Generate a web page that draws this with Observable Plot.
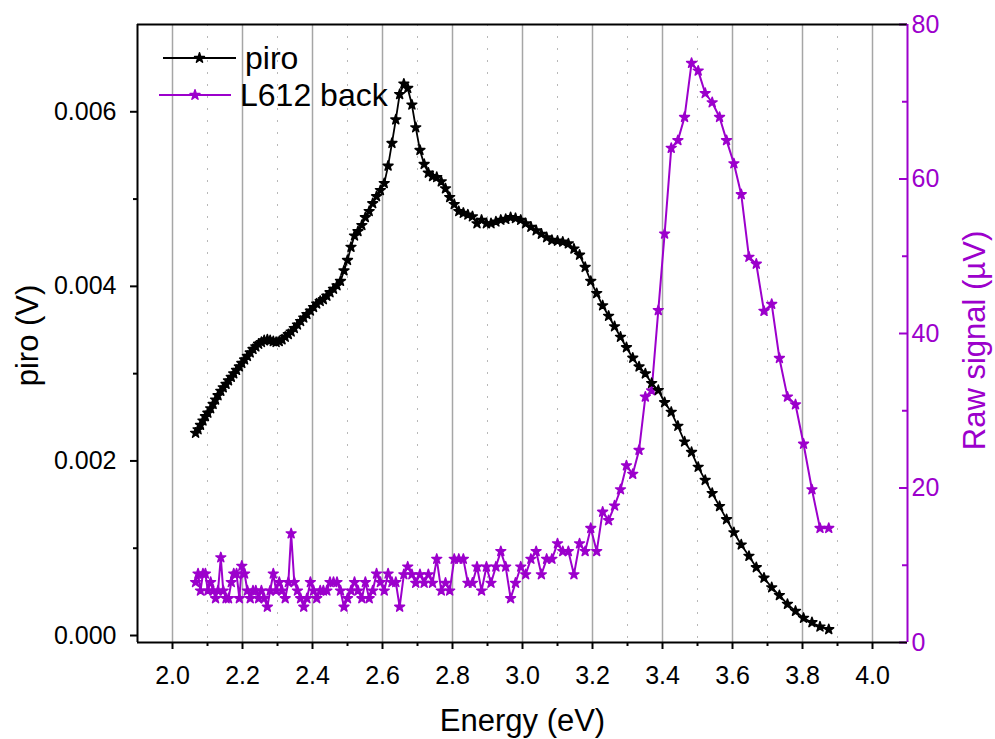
<!DOCTYPE html>
<html>
<head>
<meta charset="utf-8">
<script src="https://cdn.jsdelivr.net/npm/d3@7"></script>
<script src="https://cdn.jsdelivr.net/npm/@observablehq/plot@0.6"></script>
<style>
  html, body { margin: 0; padding: 0; background: white; }
  #wrap { position: relative; width: 995px; height: 739px; overflow: hidden; }
  #legend { position: absolute; left: 0; top: 0; pointer-events: none; }
</style>
</head>
<body>
<div id="wrap"></div>
<script>
// ---------- data ----------
const energy = [
  2.066, 2.073, 2.080, 2.087, 2.094, 2.101, 2.109, 2.116, 2.123, 2.130,
  2.138, 2.145, 2.153, 2.160, 2.168, 2.175, 2.183, 2.191, 2.198, 2.206,
  2.214, 2.222, 2.230, 2.238, 2.246, 2.254, 2.262, 2.271, 2.279, 2.288,
  2.296, 2.305, 2.313, 2.322, 2.331, 2.339, 2.348, 2.357, 2.366, 2.375,
  2.384, 2.394, 2.403, 2.412, 2.422, 2.431, 2.441, 2.450, 2.460, 2.470,
  2.480, 2.490, 2.500, 2.510, 2.520, 2.530, 2.541, 2.551, 2.562, 2.572,
  2.583, 2.594, 2.605, 2.616, 2.627, 2.638, 2.649, 2.661, 2.672, 2.684,
  2.695, 2.707, 2.719, 2.731, 2.743, 2.755, 2.768, 2.780, 2.792, 2.805,
  2.818, 2.831, 2.844, 2.857, 2.870, 2.883, 2.897, 2.910, 2.924, 2.938,
  2.952, 2.966, 2.980, 2.995, 3.009, 3.024, 3.039, 3.054, 3.069, 3.084,
  3.100, 3.115, 3.131, 3.147, 3.163, 3.179, 3.195, 3.212, 3.229, 3.246,
  3.263, 3.280, 3.297, 3.315, 3.333, 3.351, 3.369, 3.388, 3.406, 3.425,
  3.444, 3.463, 3.483, 3.502, 3.522, 3.542, 3.563, 3.583, 3.604, 3.625,
  3.647, 3.668, 3.690, 3.712, 3.734, 3.757, 3.780, 3.803, 3.827, 3.850,
  3.875
];
const piro = [
  0.00232, 0.00236, 0.00241, 0.00246, 0.00251, 0.00255, 0.00260, 0.00265, 0.00270, 0.00275,
  0.00280, 0.00284, 0.00288, 0.00292, 0.00296, 0.00300, 0.00304, 0.00308, 0.00312, 0.00316,
  0.00320, 0.00324, 0.00328, 0.00331, 0.00334, 0.00336, 0.00338, 0.00339, 0.00338, 0.00337,
  0.00336, 0.00337, 0.00339, 0.00342, 0.00345, 0.00348, 0.00352, 0.00356, 0.00360, 0.00364,
  0.00368, 0.00372, 0.00376, 0.00380, 0.00383, 0.00385, 0.00389, 0.00393, 0.00397, 0.00401,
  0.00406, 0.00418, 0.00430, 0.00445, 0.00458, 0.00463, 0.00470, 0.00479, 0.00486, 0.00495,
  0.00503, 0.00510, 0.00518, 0.00538, 0.00564, 0.00591, 0.00620, 0.00632, 0.00627, 0.00608,
  0.00582, 0.00556, 0.00540, 0.00530, 0.00526, 0.00525, 0.00520, 0.00512, 0.00502, 0.00494,
  0.00486, 0.00484, 0.00482, 0.00480, 0.00472, 0.00476, 0.00472, 0.00472, 0.00474, 0.00476,
  0.00477, 0.00479, 0.00478, 0.00476, 0.00472, 0.00468, 0.00464, 0.00460, 0.00456, 0.00453,
  0.00452, 0.00451, 0.00449, 0.00443, 0.00436, 0.00422, 0.00406, 0.00392, 0.00378, 0.00366,
  0.00354, 0.00342, 0.00330, 0.00318, 0.00308, 0.00300, 0.00289, 0.00281, 0.00267, 0.00256,
  0.00240, 0.00222, 0.00210, 0.00193, 0.00178, 0.00163, 0.00148, 0.00133, 0.00118, 0.00104,
  0.00091, 0.00078, 0.00066, 0.00055, 0.00046, 0.00036, 0.00028, 0.00020, 0.00015, 0.00010,
  0.00007
];
const rawSignal = [
  7.8, 8.9, 6.7, 8.9, 8.9, 6.7, 7.8, 6.7, 5.7, 6.7,
  11.0, 6.7, 5.7, 5.7, 7.8, 8.9, 8.9, 5.7, 9.9, 8.9,
  6.7, 5.7, 6.7, 6.7, 5.7, 6.7, 5.7, 4.6, 6.7, 8.9,
  6.7, 7.8, 6.7, 5.7, 7.8, 14.1, 7.8, 6.7, 5.7, 4.6,
  5.7, 7.8, 6.7, 5.7, 6.7, 6.7, 6.7, 7.8, 7.8, 7.8,
  6.7, 4.6, 5.7, 6.7, 7.8, 6.7, 5.7, 7.8, 5.7, 6.7,
  8.9, 7.8, 6.7, 8.9, 7.8, 7.8, 4.6, 8.8, 9.8, 8.8,
  7.7, 8.8, 7.7, 8.8, 7.7, 10.8, 6.7, 7.7, 6.7, 10.8,
  10.8, 10.8, 7.7, 7.7, 9.8, 6.7, 9.8, 7.7, 9.8, 11.8,
  9.8, 5.7, 7.7, 9.8, 8.8, 10.8, 11.8, 8.8, 10.8, 10.8,
  12.8, 11.8, 11.8, 8.8, 12.8, 11.8, 14.8, 11.8, 16.9, 15.8,
  17.7, 19.8, 22.9, 21.8, 24.9, 31.8, 32.6, 43.0, 52.9, 64.0,
  65.0, 68.0, 75.0, 74.0, 71.1, 69.9, 68.0, 65.0, 62.0, 58.0,
  49.9, 49.0, 42.9, 43.8, 36.8, 31.8, 30.8, 25.7, 19.8, 14.8,
  14.8
];

const xTicks = [2.0, 2.2, 2.4, 2.6, 2.8, 3.0, 3.2, 3.4, 3.6, 3.8, 4.0];
const xMinorTicks = [2.1, 2.3, 2.5, 2.7, 2.9, 3.1, 3.3, 3.5, 3.7, 3.9];
const piroTicks = [0.000, 0.002, 0.004, 0.006];
const piroMinorTicks = [0.001, 0.003, 0.005];
const signalTicks = [0, 20, 40, 60, 80];
const signalMinorTicks = [10, 30, 50, 70];

const seriesNames = ["piro", "L612 back"];
const xLabel = "Energy (eV)";
const yLabel = "piro (V)";
const y2Label = "Raw signal (\u00B5V)";

// ---------- layout / style ----------
const W = 995, H = 739;
const mL = 137, mR = 88, mT = 24, mB = 97;
const plotW = W - mL - mR;
const xDomain = [1.9, 4.1];
const yDomain = [-0.00008, 0.0070];
const y2Domain = [0, 80];
const purple = "#9c00cc";
const font = "'Liberation Sans', Arial, Helvetica, sans-serif";
const markR = 3.1;

// map right-axis values into the left y scale
const toY = v => yDomain[0] + (v - y2Domain[0]) * (yDomain[1] - yDomain[0]) / (y2Domain[1] - y2Domain[0]);
const fromY = y => y2Domain[0] + (y - yDomain[0]) * (y2Domain[1] - y2Domain[0]) / (yDomain[1] - yDomain[0]);

const n = Math.min(energy.length, piro.length, rawSignal.length);
const rows = d3.range(n).map(i => ({energy: energy[i], piro: piro[i], signal: rawSignal[i], signalY: toY(rawSignal[i])}));

const chart = Plot.plot({
  width: W, height: H,
  marginLeft: mL, marginRight: mR, marginTop: mT, marginBottom: mB,
  style: {fontFamily: font, fontSize: "25px", background: "white", color: "black", overflow: "visible"},
  x: {domain: xDomain},
  y: {domain: yDomain},
  marks: [
    // grid
    Plot.ruleX(xMinorTicks, {stroke: "#b8b8b8", strokeWidth: 1, strokeDasharray: "2,10"}),
    Plot.ruleX(xTicks, {stroke: "#a6a6a6", strokeWidth: 1.5}),
    // bottom axis
    Plot.axisX({ticks: xTicks, tickSize: 7, tickPadding: 17, strokeWidth: 2, tickFormat: d3.format(".1f"), label: null, fontSize: 25}),
    Plot.axisX({ticks: xMinorTicks, tickSize: 4, strokeWidth: 2, tickFormat: () => "", label: null}),
    // left axis
    Plot.axisY({ticks: piroTicks, tickSize: 7, tickPadding: 14, strokeWidth: 2, tickFormat: d3.format(".3f"), label: null, fontSize: 25}),
    Plot.axisY({ticks: piroMinorTicks, tickSize: 4, strokeWidth: 2, tickFormat: () => "", label: null}),
    // right axis (values mapped to left scale), inward ticks
    Plot.axisY({anchor: "right", ticks: signalTicks.map(toY), tickSize: 0, tickPadding: 4,
      tickFormat: d => d3.format("d")(Math.round(fromY(d))), color: purple, label: null, fontSize: 25}),
    Plot.tickY(signalTicks.map(toY), {insetLeft: plotW - 8, stroke: purple, strokeWidth: 2}),
    Plot.tickY(signalMinorTicks.map(toY), {insetLeft: plotW - 5, stroke: purple, strokeWidth: 2}),
    // frame
    Plot.ruleY([yDomain[1]], {stroke: "black", strokeWidth: 2}),
    Plot.ruleY([yDomain[0]], {stroke: "black", strokeWidth: 2}),
    Plot.ruleX([xDomain[0]], {stroke: "black", strokeWidth: 2}),
    Plot.ruleX([xDomain[1]], {stroke: purple, strokeWidth: 2}),
    // purple series
    Plot.line(rows, {x: "energy", y: "signalY", stroke: purple, strokeWidth: 2}),
    Plot.dot(rows, {x: "energy", y: "signalY", symbol: "star", r: markR, fill: purple, stroke: purple, strokeWidth: 1.5, strokeLinejoin: "round"}),
    // black series
    Plot.line(rows, {x: "energy", y: "piro", stroke: "black", strokeWidth: 1.8}),
    Plot.dot(rows, {x: "energy", y: "piro", symbol: "star", r: markR, fill: "black", stroke: "black", strokeWidth: 1.5, strokeLinejoin: "round"}),
    // axis titles
    Plot.text([xLabel], {frameAnchor: "bottom", textAnchor: "middle", dy: 79, fontSize: 31, lineAnchor: "middle", fill: "black"}),
    Plot.text([yLabel], {frameAnchor: "left", textAnchor: "middle", dx: -109, dy: 2, rotate: -90, fontSize: 31, lineAnchor: "middle", fill: "black"}),
    Plot.text([y2Label], {frameAnchor: "right", textAnchor: "middle", dx: 68, dy: 7, rotate: -90, fontSize: 31, lineAnchor: "middle", fill: purple})
  ]
});

const wrap = document.getElementById("wrap");
wrap.appendChild(chart);

// ---------- legend (overlay inside the plot, top-left) ----------
const legendItems = [
  {name: seriesNames[0], color: "black", x1: 163, x2: 236, y: 58, tx: 245, ty: 69},
  {name: seriesNames[1], color: purple, x1: 159, x2: 231, y: 95, tx: 240, ty: 106}
];
const lg = d3.create("svg").attr("id", "legend").attr("width", W).attr("height", H)
  .style("font-family", font);
const sym = d3.symbol(d3.symbolStar, Math.PI * markR * markR);
for (const it of legendItems) {
  lg.append("line").attr("x1", it.x1).attr("x2", it.x2).attr("y1", it.y).attr("y2", it.y)
    .attr("stroke", it.color).attr("stroke-width", 2);
  lg.append("path").attr("d", sym()).attr("transform", `translate(${(it.x1 + it.x2) / 2},${it.y})`)
    .attr("fill", it.color).attr("stroke", it.color).attr("stroke-width", 1.5).attr("stroke-linejoin", "round");
  lg.append("text").attr("x", it.tx).attr("y", it.ty).attr("font-size", 32).attr("fill", "black").text(it.name);
}
wrap.appendChild(lg.node());
</script>
</body>
</html>
